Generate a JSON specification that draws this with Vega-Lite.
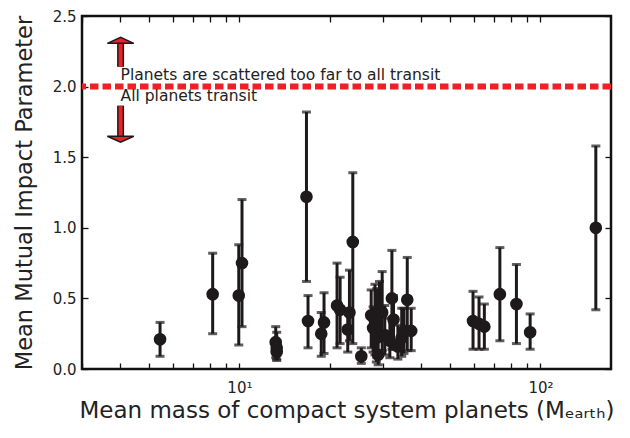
{
  "$schema": "https://vega.github.io/schema/vega-lite/v6.json",
  "autosize": "none",
  "width": 529,
  "height": 353,
  "padding": {"left": 82, "top": 16, "right": 19, "bottom": 69},
  "background": "white",
  "config": {
    "font": "DejaVu Sans",
    "view": {"stroke": "#111111", "strokeWidth": 2.5},
    "axis": {"domain": false, "grid": false, "zindex": 1, "tickColor": "#111111", "tickWidth": 1.3, "labelColor": "#222222", "titleColor": "#222222", "labelFont": "DejaVu Sans", "titleFont": "DejaVu Sans", "titleFontWeight": "normal"}
  },
  "datasets": {
    "pts": [
      {"m": 5.45, "b": 0.21, "lo": 0.09, "hi": 0.33},
      {"m": 8.15, "b": 0.53, "lo": 0.25, "hi": 0.82},
      {"m": 9.95, "b": 0.52, "lo": 0.17, "hi": 0.88},
      {"m": 10.2, "b": 0.75, "lo": 0.30, "hi": 1.20},
      {"m": 13.2, "b": 0.19, "lo": 0.08, "hi": 0.30},
      {"m": 13.3, "b": 0.15, "lo": 0.07, "hi": 0.26},
      {"m": 13.3, "b": 0.12, "lo": 0.06, "hi": 0.20},
      {"m": 16.7, "b": 1.22, "lo": 0.62, "hi": 1.82},
      {"m": 16.9, "b": 0.34, "lo": 0.15, "hi": 0.52},
      {"m": 18.7, "b": 0.25, "lo": 0.09, "hi": 0.40},
      {"m": 19.1, "b": 0.33, "lo": 0.11, "hi": 0.54},
      {"m": 21.1, "b": 0.45, "lo": 0.15, "hi": 0.75},
      {"m": 21.6, "b": 0.42, "lo": 0.18, "hi": 0.65},
      {"m": 22.9, "b": 0.28, "lo": 0.12, "hi": 0.42},
      {"m": 23.2, "b": 0.40, "lo": 0.20, "hi": 0.70},
      {"m": 23.8, "b": 0.90, "lo": 0.18, "hi": 1.39},
      {"m": 25.4, "b": 0.09, "lo": 0.04, "hi": 0.15},
      {"m": 27.4, "b": 0.38, "lo": 0.15, "hi": 0.56},
      {"m": 27.8, "b": 0.29, "lo": 0.12, "hi": 0.44},
      {"m": 28.2, "b": 0.34, "lo": 0.10, "hi": 0.60},
      {"m": 28.5, "b": 0.22, "lo": 0.05, "hi": 0.42},
      {"m": 28.9, "b": 0.10, "lo": 0.03, "hi": 0.20},
      {"m": 29.2, "b": 0.41, "lo": 0.20, "hi": 0.62},
      {"m": 29.8, "b": 0.40, "lo": 0.13, "hi": 0.69},
      {"m": 28.6, "b": 0.28, "lo": 0.08, "hi": 0.57},
      {"m": 30.4, "b": 0.24, "lo": 0.10, "hi": 0.45},
      {"m": 31.6, "b": 0.20, "lo": 0.08, "hi": 0.36},
      {"m": 32.5, "b": 0.35, "lo": 0.14, "hi": 0.52},
      {"m": 32.1, "b": 0.50, "lo": 0.14, "hi": 0.84},
      {"m": 33.6, "b": 0.16, "lo": 0.07, "hi": 0.31},
      {"m": 34.6, "b": 0.22, "lo": 0.09, "hi": 0.43},
      {"m": 35.2, "b": 0.27, "lo": 0.11, "hi": 0.43},
      {"m": 36.1, "b": 0.49, "lo": 0.13, "hi": 0.79},
      {"m": 37.2, "b": 0.27, "lo": 0.13, "hi": 0.43},
      {"m": 59.7, "b": 0.34, "lo": 0.14, "hi": 0.55},
      {"m": 62.5, "b": 0.32, "lo": 0.14, "hi": 0.51},
      {"m": 65.1, "b": 0.30, "lo": 0.14, "hi": 0.46},
      {"m": 73.3, "b": 0.53, "lo": 0.20, "hi": 0.86},
      {"m": 83.2, "b": 0.46, "lo": 0.18, "hi": 0.74},
      {"m": 92.4, "b": 0.26, "lo": 0.14, "hi": 0.39},
      {"m": 152.7, "b": 1.00, "lo": 0.42, "hi": 1.58}
    ],
    "arrows": [
      {"m": 4.03, "s0": 2.14, "s1": 2.32, "head": 2.325, "dir": "up"},
      {"m": 4.03, "s0": 1.865, "s1": 1.64, "head": 1.63, "dir": "down"}
    ],
    "labels": [
      {"m": 4.03, "b": 2.05, "t": "Planets are scattered too far to all transit"},
      {"m": 4.03, "b": 1.90, "t": "All planets transit"}
    ],
    "line": [{"b": 2}]
  },
  "resolve": {"axis": {"x": "independent", "y": "independent"}},
  "layer": [
    {
      "data": {"name": "pts"},
      "mark": {"type": "rule", "color": "#1e1a1b", "strokeWidth": 3},
      "encoding": {
        "x": {"field": "m", "type": "quantitative", "scale": {"type": "log", "domain": [3.0, 171.5], "nice": false},
          "axis": {"orient": "bottom", "values": [3,4,5,6,7,8,9,10,20,30,40,50,60,70,80,90,100], "labelExpr": "datum.value == 10 ? '10¹' : (datum.value == 100 ? '10²' : '')", "tickSize": -6, "labelPadding": 17, "labelFontSize": 15, "labelOverlap": false, "labelFlush": false,
            "title": "Mean mass of compact system planets (Mₑₐᵣₜₕ)", "titleFontSize": 23, "titlePadding": 4,
            "encode": {"ticks": {"update": {"y2": {"signal": "(datum.value == 10 || datum.value == 100) ? -6 : -3"}}}}}},
        "y": {"field": "lo", "type": "quantitative", "scale": {"domain": [0, 2.5], "nice": false, "zero": false},
          "axis": {"orient": "left", "values": [0, 0.5, 1, 1.5, 2, 2.5], "format": ".1f", "tickSize": -6, "labelPadding": 12, "labelFontSize": 15,
            "title": "Mean Mutual Impact Parameter", "titleFontSize": 22.5, "titlePadding": 16}},
        "y2": {"field": "hi"}
      }
    },
    {
      "data": {"name": "pts"},
      "mark": {"type": "tick", "orient": "horizontal", "color": "#1e1a1b", "size": 9, "thickness": 3},
      "encoding": {
        "x": {"field": "m", "type": "quantitative", "axis": {"orient": "top", "values": [3,4,5,6,7,8,9,10,20,30,40,50,60,70,80,90,100], "labels": false, "title": null, "tickSize": -6,
          "encode": {"ticks": {"update": {"y2": {"signal": "(datum.value == 10 || datum.value == 100) ? 6 : 3"}}}}}},
        "y": {"field": "lo", "type": "quantitative", "axis": {"orient": "right", "values": [0, 0.5, 1, 1.5, 2, 2.5], "labels": false, "title": null, "tickSize": -6}}
      }
    },
    {
      "data": {"name": "pts"},
      "mark": {"type": "tick", "orient": "horizontal", "color": "#1e1a1b", "size": 9, "thickness": 3},
      "encoding": {
        "x": {"field": "m", "type": "quantitative", "axis": null},
        "y": {"field": "hi", "type": "quantitative", "axis": null}
      }
    },
    {
      "data": {"name": "pts"},
      "mark": {"type": "point", "shape": "circle", "filled": true, "color": "#1e1a1b", "size": 160, "opacity": 1},
      "encoding": {
        "x": {"field": "m", "type": "quantitative", "axis": null},
        "y": {"field": "b", "type": "quantitative", "axis": null}
      }
    },
    {
      "data": {"name": "line"},
      "mark": {"type": "rule", "color": "#ec2027", "strokeWidth": 6, "strokeDash": [8.5, 4]},
      "encoding": {"y": {"field": "b", "type": "quantitative", "axis": null}}
    },
    {
      "data": {"name": "arrows"},
      "mark": {"type": "rule", "color": "#1e1a1b", "strokeWidth": 7},
      "encoding": {
        "x": {"field": "m", "type": "quantitative", "axis": null},
        "y": {"field": "s0", "type": "quantitative", "axis": null},
        "y2": {"field": "s1"}
      }
    },
    {
      "data": {"name": "arrows"},
      "mark": {"type": "rule", "color": "#ec2027", "strokeWidth": 4},
      "encoding": {
        "x": {"field": "m", "type": "quantitative", "axis": null},
        "y": {"field": "s0", "type": "quantitative", "axis": null},
        "y2": {"field": "s1"}
      }
    },
    {
      "data": {"name": "arrows"},
      "transform": [{"filter": "datum.dir == 'up'"}],
      "mark": {"type": "point", "filled": true, "fill": "#ec2027", "stroke": "#1e1a1b", "strokeWidth": 1.5, "opacity": 1, "size": 700, "shape": "M-1,0.2 L0,-0.25 L1,0.2 Z"},
      "encoding": {
        "x": {"field": "m", "type": "quantitative", "axis": null},
        "y": {"field": "head", "type": "quantitative", "axis": null}
      }
    },
    {
      "data": {"name": "arrows"},
      "transform": [{"filter": "datum.dir == 'down'"}],
      "mark": {"type": "point", "filled": true, "fill": "#ec2027", "stroke": "#1e1a1b", "strokeWidth": 1.5, "opacity": 1, "size": 700, "shape": "M-1,-0.2 L0,0.25 L1,-0.2 Z"},
      "encoding": {
        "x": {"field": "m", "type": "quantitative", "axis": null},
        "y": {"field": "head", "type": "quantitative", "axis": null}
      }
    },
    {
      "data": {"name": "labels"},
      "mark": {"type": "text", "align": "left", "baseline": "alphabetic", "fontSize": 15.5, "color": "#222222", "font": "DejaVu Sans"},
      "encoding": {
        "x": {"field": "m", "type": "quantitative", "axis": null},
        "y": {"field": "b", "type": "quantitative", "axis": null},
        "text": {"field": "t"}
      }
    }
  ]
}
